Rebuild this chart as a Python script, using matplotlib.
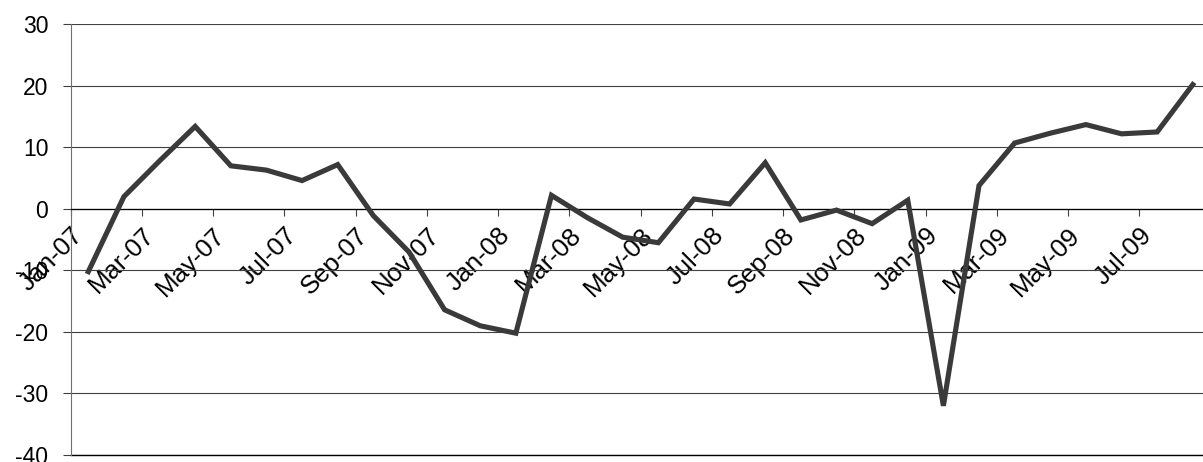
import matplotlib
matplotlib.use('Agg')
import matplotlib.pyplot as plt

# monthly values, Jan-07 .. Aug-09
values = [
    -10.2, 2.0, 7.8, 13.4, 7.0, 6.3, 4.6, 7.2, -1.1, -7.0,
    -16.4, -19.0, -20.2, 2.2, -1.4, -4.6, -5.5, 1.6, 0.8, 7.5,
    -1.8, -0.2, -2.4, 1.4, -32.0, 3.8, 10.7, 12.3, 13.7, 12.2,
    12.5, 20.2,
]
tick_labels = [
    'Jan-07', 'Mar-07', 'May-07', 'Jul-07', 'Sep-07', 'Nov-07',
    'Jan-08', 'Mar-08', 'May-08', 'Jul-08', 'Sep-08', 'Nov-08',
    'Jan-09', 'Mar-09', 'May-09', 'Jul-09',
]
y_ticks = [-40, -30, -20, -10, 0, 10, 20, 30]

plt.rcParams['font.family'] = ['Liberation Sans', 'DejaVu Sans']
plt.rcParams['axes.unicode_minus'] = False

fig = plt.figure(figsize=(12.03, 4.62), dpi=100)
ax = fig.add_axes([70.5 / 1203, 7 / 462, (1210.6 - 70.5) / 1203, (455 - 24.3) / 462])

# spine moves first, they reset the tick settings
ax.spines['top'].set_visible(False)
ax.spines['right'].set_visible(False)
ax.spines['left'].set_color('#707070')
ax.spines['left'].set_linewidth(0.8)
ax.spines['bottom'].set_position(('data', 0))
ax.spines['bottom'].set_color('black')
ax.spines['bottom'].set_linewidth(0.9)

x = list(range(len(values)))
ax.plot(x, values, color='#3a3a3a', lw=3.7, solid_joinstyle='miter', zorder=3)

ax.set_xlim(-0.5, len(values) - 0.5)
ax.set_ylim(-40, 30)
ax.set_yticks(y_ticks)
ax.yaxis.grid(True, color='#404040', lw=0.8)
ax.axhline(-40, color='black', lw=1.0, clip_on=False, zorder=1)
ax.set_axisbelow(True)

# category boundaries every two months
tick_pos = [-0.5 + 2 * i for i in range(len(tick_labels))]
ax.set_xticks(tick_pos)
ax.set_xticklabels(tick_labels, rotation=45, ha='right', va='top',
                   rotation_mode='anchor', fontsize=18.5)

ax.tick_params(axis='x', direction='out', length=5, width=0.8, color='#404040', pad=5)
ax.tick_params(axis='y', direction='out', length=6, width=0.8, color='#404040',
               pad=10, labelsize=16.5)

fig.savefig('out.png', dpi=100)
